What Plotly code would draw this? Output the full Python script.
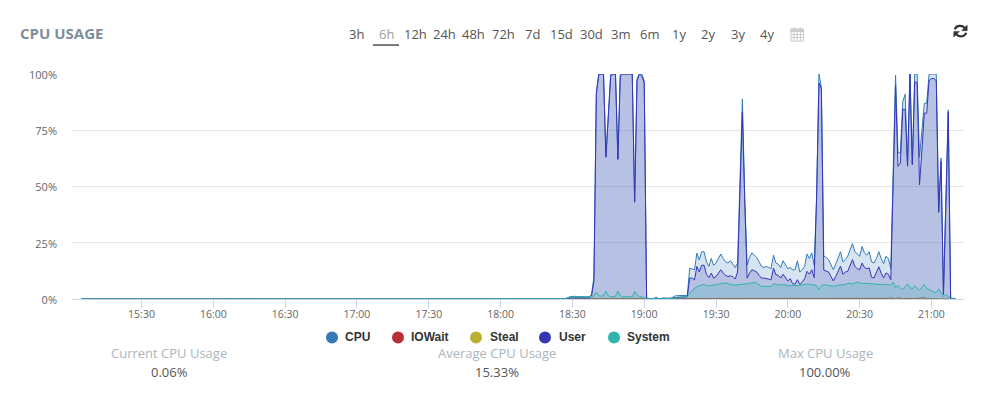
import pandas as pd
import plotly.graph_objects as go

# ---- data ----
flat_times = ["15:05", "16:00", "17:00", "18:00", "18:27", "18:29"]
flat_cpu = [0.1, 0.1, 0.1, 0.1, 0.15, 1.0]
flat_user = [0.05, 0.05, 0.05, 0.05, 0.08, 0.5]
flat_system = [0.05, 0.05, 0.05, 0.05, 0.1, 0.9]

grid_start = "18:30"   # one sample a minute from here to 21:10

cpu = [
    1.2, 1.2, 1.1, 1.2, 1.1, 1, 1, 1, 2, 10,
    92, 100, 100, 100, 63.5, 81, 100, 100, 100, 62.5,
    100, 100, 100, 100, 100, 100, 43.5, 98, 100, 100,
    97, 0.4, 0.2, 0.2, 0.2, 0.8, 0.2, 0.1, 0.5, 0.3,
    0.3, 0.2, 0.8, 1.4, 1.5, 1.5, 1.5, 1.4, 1.6, 13.7,
    13.5, 13, 20.4, 17.4, 21, 21, 16.5, 14.5, 18, 15,
    16, 18, 20, 18, 16.5, 16, 17, 15.5, 14, 16,
    52, 88.8, 45, 15, 18.5, 20.5, 19.5, 18.5, 16.5, 14.5,
    14, 14.5, 14, 13.5, 19.5, 16, 15.5, 14, 17, 15,
    13.5, 14, 13, 13, 17, 12, 13, 14.5, 20, 18,
    20.5, 15, 45, 100, 94, 19, 18.5, 17.5, 15, 13,
    15.5, 18, 21, 16.5, 17.5, 19, 22, 24.6, 21, 20,
    19, 23.4, 20.5, 19.5, 21, 16.5, 16, 18, 21, 18,
    15.7, 19, 18, 13.5, 52, 99.5, 65, 65, 87.7, 91,
    59.5, 100, 60, 100, 100, 63, 75, 87, 87, 100,
    100, 100, 100, 39, 62.6, 2.5, 43, 84, 0.5, 0.2,
    0.1,
]
user = [
    0.6, 0.6, 0.5, 0.6, 0.5, 0.5, 0.5, 0.5, 1.5, 8,
    91, 99.6, 100, 100, 63, 80, 99, 100, 100, 62,
    99, 100, 100, 100, 100, 100, 43, 97, 100, 99,
    96, 0.3, 0.1, 0.1, 0.1, 0.3, 0.1, 0.1, 0.1, 0.2,
    0.2, 0.1, 0.4, 0.6, 0.7, 0.7, 0.7, 0.7, 1, 9.3,
    9.3, 8.5, 14.5, 12, 15, 15, 11, 9.5, 11.5, 9.3,
    10, 11.5, 13, 11.5, 10.5, 10, 10.3, 10, 8.9, 12,
    50, 83, 43, 9.3, 11.5, 13, 12.5, 12, 10.5, 9.3,
    9.3, 9, 9, 8.6, 13.7, 10.8, 10.5, 9.3, 11, 9.5,
    8, 9, 6.8, 6.6, 8.6, 6.5, 7.5, 9, 12.3, 11,
    13, 9.5, 45, 96, 93.5, 12.8, 12.5, 12, 10, 8,
    10, 12, 14.6, 11, 12, 12.3, 15, 17.5, 14.5, 13.5,
    13, 16, 14, 13.5, 13.8, 9.6, 9.4, 11.5, 14.3, 11.5,
    9.4, 11.6, 11, 8.6, 50, 95, 59, 60.4, 84.3, 84.3,
    59, 100, 59.6, 96.6, 96, 50.8, 66, 82.6, 82.6, 97,
    98, 98, 97, 38.5, 61, 2, 42, 83, 0.3, 0.1,
    0.05,
]
system = [
    1, 1, 1, 1, 1, 1, 1, 1, 1, 1.5,
    3, 1.5, 1.2, 1.5, 3.5, 1.5, 1, 1, 1.2, 3.5,
    1.5, 1, 1, 1, 1, 1, 3.5, 1.8, 1, 1,
    0.6, 0.1, 0.1, 0.1, 0.1, 0.2, 0.1, 0.1, 0.1, 0.1,
    0.1, 0.1, 0.2, 0.7, 0.9, 1, 1, 0.9, 0.9, 2.7,
    3.5, 4.8, 5.6, 6, 6.2, 6.4, 6, 5.8, 6, 6.1,
    6.3, 6.6, 6.8, 7, 7.2, 6.8, 6.4, 6.3, 6.2, 6.3,
    6.3, 6.5, 6.4, 6.5, 6.9, 7.2, 7.4, 7, 6.2, 5.6,
    5.6, 5.5, 5.5, 5.6, 6.8, 6.4, 6.2, 6.3, 6.4, 6.3,
    5.9, 6, 5.8, 6, 5.9, 6.1, 6.3, 6.5, 6.6, 6.5,
    6.4, 6.3, 6, 4.2, 5.8, 6.4, 6.2, 6.1, 5.9, 5.7,
    5.8, 6.2, 6.4, 6.3, 6.6, 6.8, 7, 6.7, 7.1, 7.5,
    7.2, 6.9, 7, 6.9, 7, 6.8, 6.5, 6.7, 6.6, 6.4,
    6.5, 6.6, 6.4, 6.1, 7.5, 5, 6, 5, 4.2, 5.5,
    6.7, 5.2, 4.5, 6, 4.8, 4, 5.2, 6.4, 4.8, 4,
    3.6, 3, 2.9, 4.5, 2.5, 1, 2, 1.2, 0.4, 0.1,
    0.05,
]
iowait = [0] * 132 + [0.3, 0.4, 0.2, 0.1, 0.5, 0.3, 0.1, 0.3, 0.4, 0.2,
                      0.1, 0.2, 0.3, 0.2, 0.6, 0.5, 0.2, 0.1, 0.2, 0.1, 0, 0, 0, 0, 0, 0, 0, 0, 0]
steal = [0] * 161

tick_labels_y = ["0%", "25%", "50%", "75%", "100%"]
tick_values_y = [0, 25, 50, 75, 100]

range_buttons = ["3h", "6h", "12h", "24h", "48h", "72h", "7d", "15d", "30d", "3m", "6m", "1y", "2y", "3y", "4y"]
legend_names = ["CPU", "IOWait", "Steal", "User", "System"]
stat_titles = ["Current CPU Usage", "Average CPU Usage", "Max CPU Usage"]
stat_values = ["0.06%", "15.33%", "100.00%"]

# ---- styles ----
COLORS = {"CPU": "#337ab7", "IOWait": "#b92f38", "Steal": "#bcb030", "User": "#3636b5", "System": "#2fb5ac"}
FILLS = {
    "CPU": "rgba(51,122,183,0.2)",
    "IOWait": "rgba(185,47,56,0.2)",
    "Steal": "rgba(188,176,48,0.2)",
    "User": "rgba(54,54,181,0.2)",
    "System": "rgba(47,181,172,0.2)",
}
DAY = "2023-01-01 "
L, R, T, B = 72.0, 964.0, 74.0, 299.5
W, H = 994, 396


def px(x):
    return (x - L) / (R - L)


def py(y):
    return (B - y) / (B - T)


grid_times = pd.date_range(DAY + grid_start, periods=len(cpu), freq="min")
times = [pd.Timestamp(DAY + t) for t in flat_times] + list(grid_times)

series = {
    "CPU": flat_cpu + cpu,
    "IOWait": [0] * len(flat_times) + iowait,
    "Steal": [0] * len(flat_times) + steal,
    "User": flat_user + user,
    "System": flat_system + system,
}

fig = go.Figure()
for name in legend_names:
    fig.add_trace(go.Scatter(
        x=times, y=series[name], name=name, mode="lines",
        line=dict(color=COLORS[name], width=1),
        fill="tozeroy", fillcolor=FILLS[name], showlegend=False,
    ))

annotations = []
shapes = []


def text(x, y, s, size=13, color="#555", family="Open Sans", anchor="center"):
    annotations.append(dict(
        x=px(x), y=py(y), xref="paper", yref="paper", text=s, showarrow=False,
        xanchor=anchor, yanchor="middle", align=anchor,
        font=dict(size=size, color=color, family=family), borderpad=0, borderwidth=0,
    ))


text(20, 32.5, "<b>CPU USAGE</b>", size=15, color="#7f8e9b", anchor="left")

button_x = [356, 386, 415, 444, 473, 503, 532, 561, 591, 620, 649.6, 679, 708, 738, 767]
for x, label in zip(button_x, range_buttons):
    text(x, 34, label, size=13, color="#a0a0a0" if label == "6h" else "#555")
shapes.append(dict(type="line", xref="paper", yref="paper", x0=px(373), x1=px(399), y0=py(45), y1=py(45),
                   line=dict(color="#777", width=2)))

# calendar icon
cal = "#cbcbcb"
shapes.append(dict(type="rect", xref="paper", yref="paper", x0=px(791), x1=px(803.5), y0=py(41), y1=py(29),
                   line=dict(color=cal, width=1), fillcolor="white"))
shapes.append(dict(type="rect", xref="paper", yref="paper", x0=px(791), x1=px(803.5), y0=py(31.5), y1=py(29),
                   line=dict(color=cal, width=1), fillcolor=cal))
for gx in (794, 797.2, 800.4):
    shapes.append(dict(type="line", xref="paper", yref="paper", x0=px(gx), x1=px(gx), y0=py(32), y1=py(41),
                       line=dict(color=cal, width=1)))
for gx in (794, 800.4):
    shapes.append(dict(type="line", xref="paper", yref="paper", x0=px(gx), x1=px(gx), y0=py(27.5), y1=py(30),
                       line=dict(color=cal, width=1.5)))
for gy in (34.5, 37.5):
    shapes.append(dict(type="line", xref="paper", yref="paper", x0=px(791), x1=px(803.5), y0=py(gy), y1=py(gy),
                       line=dict(color=cal, width=1)))


# refresh icon
def P(x, y):
    return f"{px(x):.5f},{py(y):.5f}"


ICON = "#333"
shapes.append(dict(type="path", xref="paper", yref="paper",
                   path=f"M{P(954.8, 29.3)} C{P(955.8, 25.6)} {P(961.6, 24.2)} {P(964.8, 27.8)}",
                   line=dict(color=ICON, width=2.2)))
shapes.append(dict(type="path", xref="paper", yref="paper",
                   path=f"M{P(967.2, 25)} L{P(967.2, 30.6)} L{P(961.6, 30.6)} Z",
                   line=dict(color=ICON, width=0.5), fillcolor=ICON))
shapes.append(dict(type="path", xref="paper", yref="paper",
                   path=f"M{P(966.2, 32.7)} C{P(965.2, 36.4)} {P(959.4, 37.8)} {P(956.2, 34.2)}",
                   line=dict(color=ICON, width=2.2)))
shapes.append(dict(type="path", xref="paper", yref="paper",
                   path=f"M{P(953.8, 37)} L{P(953.8, 31.4)} L{P(959.4, 31.4)} Z",
                   line=dict(color=ICON, width=0.5), fillcolor=ICON))

# legend
legend_dot_x = [332, 398, 476, 545, 614]
legend_text_x = [345, 411, 490, 559, 627]
for dx, tx, name in zip(legend_dot_x, legend_text_x, legend_names):
    shapes.append(dict(type="circle", xref="paper", yref="paper", x0=px(dx - 6), x1=px(dx + 6), y0=py(344), y1=py(332),
                       line=dict(width=0), fillcolor=COLORS[name]))
    text(tx, 338, f"<b>{name}</b>", size=12, color="#333", family="Liberation Sans", anchor="left")

stat_x = [169, 497, 825]
for x, t, v in zip(stat_x, stat_titles, stat_values):
    text(x, 354, t, size=13, color="#abb5bd")
    text(x, 372.5, v, size=13, color="#555")

fig.update_layout(
    width=W, height=H, autosize=False,
    margin=dict(l=L, r=W - R, t=T, b=H - B, pad=0),
    paper_bgcolor="white", plot_bgcolor="white",
    font=dict(family="Open Sans", size=11, color="#666"),
    annotations=annotations, shapes=shapes, hovermode=False,
    xaxis=dict(
        type="date", range=[DAY + "15:00:58", DAY + "21:13:35"],
        tick0=DAY + "15:30", dtick=1800000, tickformat="%H:%M",
        showgrid=False, zeroline=False, showline=True, linecolor="#ccd6eb", linewidth=1,
        ticks="outside", ticklen=8, tickcolor="#ccd6eb", tickwidth=1, ticklabelstandoff=-3,
        tickfont=dict(size=10.5, color="#666", family="Open Sans"),
    ),
    yaxis=dict(
        range=[0, 100], tickvals=tick_values_y, ticktext=tick_labels_y,
        showgrid=True, gridcolor="#e6e6e6", gridwidth=1, zeroline=False, showline=False,
        ticks="", ticklabelstandoff=14, ticklabelshift=1,
        tickfont=dict(size=11, color="#666", family="Open Sans"),
    ),
)

fig.write_html("out.html", config={"displayModeBar": False},
               post_script="document.body.style.margin='0';document.body.style.overflow='hidden';")
